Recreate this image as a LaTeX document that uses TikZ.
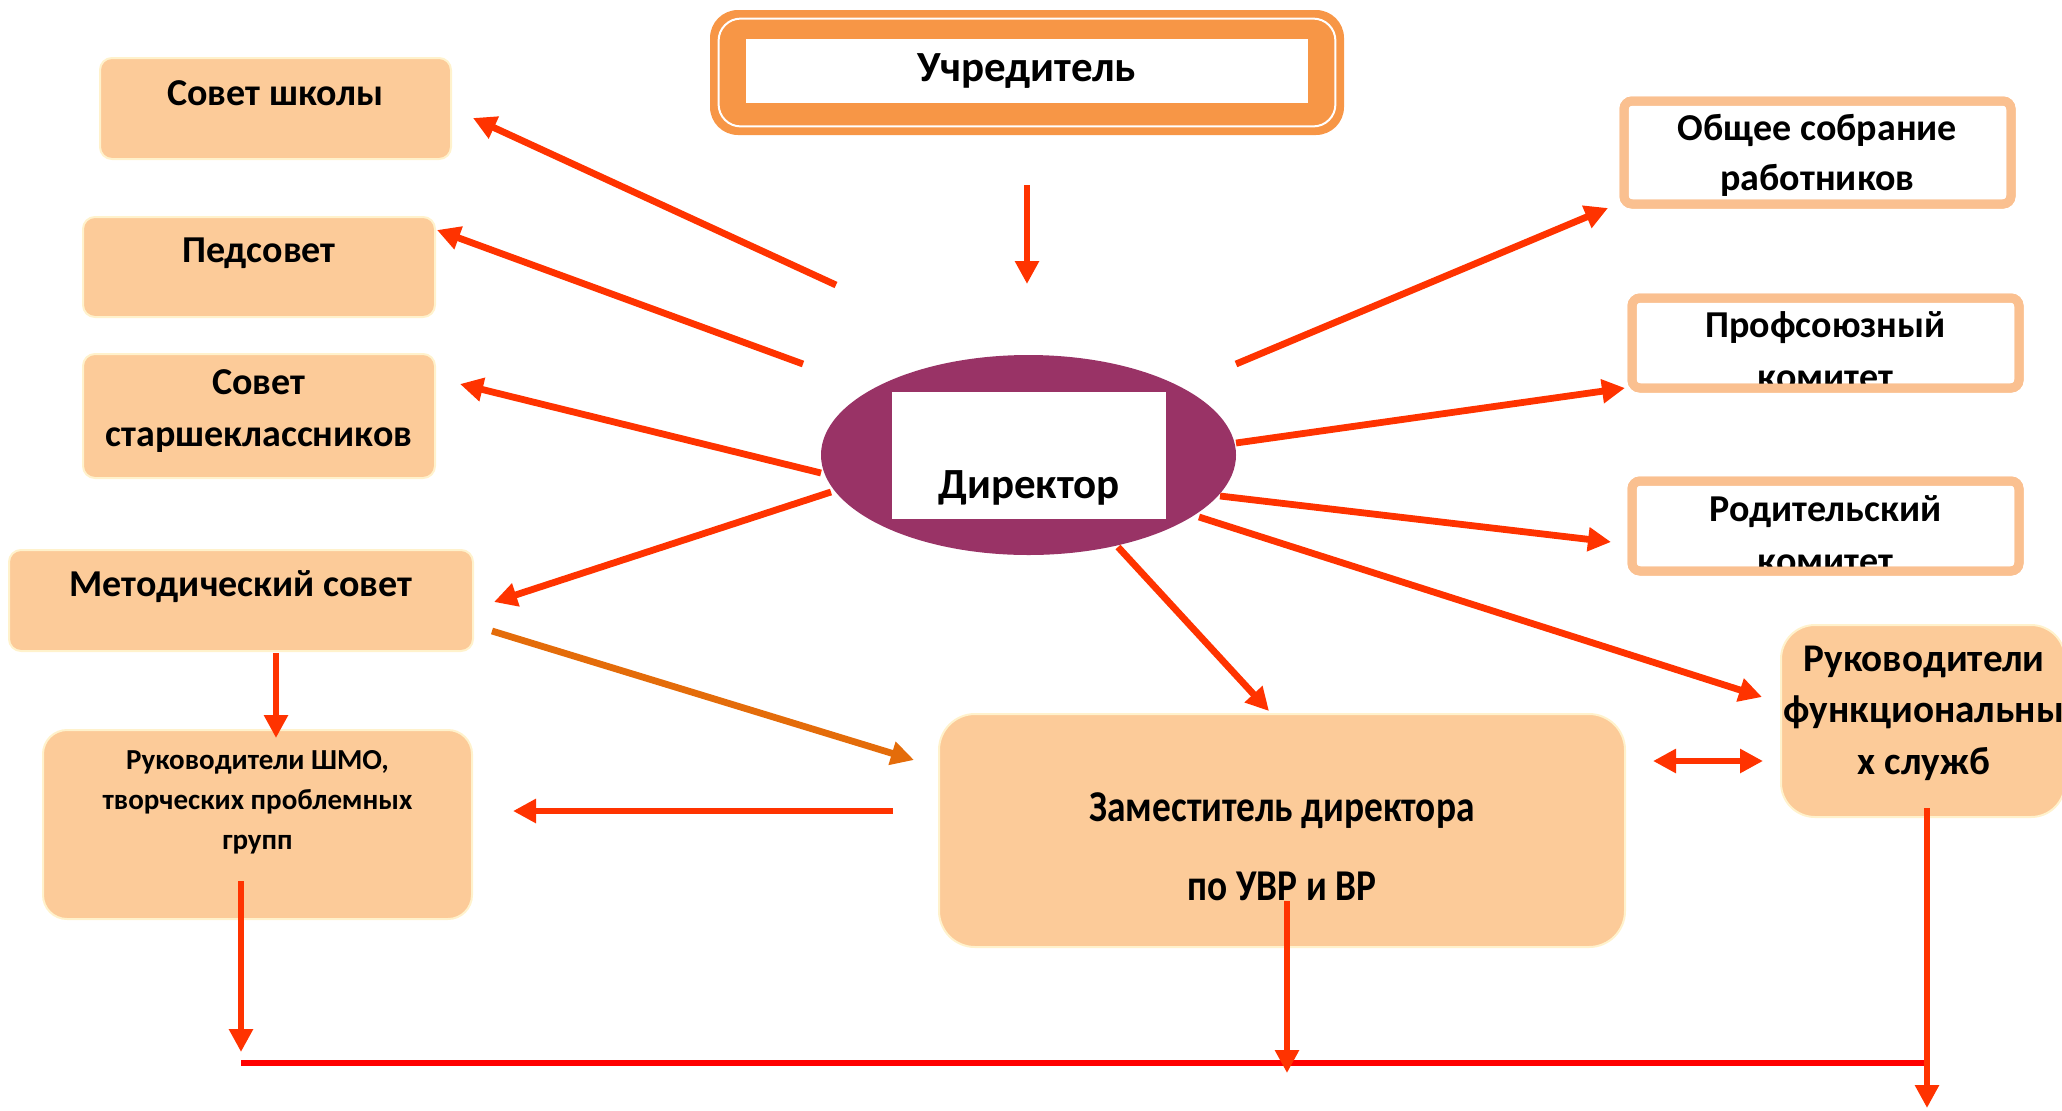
\documentclass[tikz,border=0pt]{standalone}
\usepackage{fontspec}
\setmainfont{Carlito}
\usetikzlibrary{arrows.meta,shapes.geometric}
\definecolor{peach}{RGB}{252,203,153}
\definecolor{peachline}{RGB}{255,242,204}
\definecolor{rborder}{RGB}{250,192,144}
\definecolor{uorange}{RGB}{247,150,70}
\definecolor{plum}{RGB}{153,51,102}
\definecolor{arr}{RGB}{255,51,0}
\definecolor{arrorange}{RGB}{228,108,10}
\definecolor{hline}{RGB}{255,0,0}
\begin{document}
\begin{tikzpicture}[x=0.5pt,y=-0.5pt,
  lbox/.style={fill=peach,draw=peachline,line width=1pt,rounded corners=6pt,inner sep=0pt},
  rbox/.style={fill=white,draw=rborder,line width=4.5pt,rounded corners=4pt,inner sep=0pt,outer sep=0pt},
  rline/.style={draw=rborder,line width=4.5pt,rounded corners=4pt},
  txt/.style={font=\bfseries\fontsize{19}{26}\selectfont,align=center,inner sep=0pt},
  stxt/.style={font=\bfseries\fontsize{14.5}{20}\selectfont,align=center,inner sep=0pt},
  arrow/.style={draw=arr,line width=3.4pt,-{Triangle[length=11.5pt,width=11.5pt]}},
  darrow/.style={draw=arr,line width=3.4pt,{Triangle[length=11.5pt,width=11.5pt]}-{Triangle[length=11.5pt,width=11.5pt]}},
  oarrow/.style={draw=arrorange,line width=3.4pt,-{Triangle[length=11.5pt,width=11.5pt]}},
]
\useasboundingbox (0,0) rectangle (2062,1110);

% Founder
\node[fill=uorange,rounded corners=14pt,minimum width=317pt,minimum height=62.5pt,inner sep=0pt] (uch) at (1027,72.5) {};
\draw[white,line width=1pt,rounded corners=11pt] ([shift={(4.5pt,-4.5pt)}]uch.north west) rectangle ([shift={(-4.5pt,4.5pt)}]uch.south east);
\node[fill=white,minimum width=281pt,minimum height=32pt,inner sep=0pt,font=\bfseries\fontsize{21.5}{26}\selectfont] (uchT) at (1027,71) {Учредитель};

% Director
\node[ellipse,fill=plum,minimum width=207.5pt,minimum height=100pt,inner sep=0pt] (dir) at (1028.5,455) {};
\node[fill=white,minimum width=137pt,minimum height=63.5pt,inner sep=0pt] (dirB) at (1029,455.5) {};
\node[font=\bfseries\fontsize{21.5}{26}\selectfont,inner sep=0pt] (dirT) at (1029,488) {Директор};

% Left boxes
\node[lbox,minimum width=175.5pt,minimum height=50.5pt] (shk) at (275.5,108.5) {};
\node[txt] (shkT) at (275.5,93) {Совет школы};
\node[lbox,minimum width=176pt,minimum height=50pt] (ped) at (259,267) {};
\node[txt] (pedT) at (259,253) {Педсовет};
\node[lbox,minimum width=176pt,minimum height=62pt] (star) at (259,416) {};
\node[txt] (starT) at (259,411.5) {Совет\\старшеклассников};
\node[lbox,minimum width=232pt,minimum height=50.5pt] (met) at (241,600.5) {};
\node[txt] (metT) at (241,587) {Методический совет};
\node[lbox,rounded corners=12pt,minimum width=214.5pt,minimum height=94.5pt] (shmo) at (257.5,824.5) {};
\node[stxt] (shmoT) at (257.5,802) {Руководители ШМО,\\творческих проблемных\\групп};

% Deputy
\node[lbox,rounded corners=18pt,minimum width=343pt,minimum height=116.5pt] (zam) at (1282,830.5) {};
\node[font=\bfseries\fontsize{22}{39.5}\selectfont,align=center,inner sep=0pt] (zamT) at (1282,846.5) {\scalebox{0.85}[1]{Заместитель директора}\\\scalebox{0.85}[1]{по УВР и ВР}};

% Functional services
\node[lbox,rounded corners=17pt,minimum width=142pt,minimum height=96pt] (func) at (1923,721) {};
\node[font=\bfseries\fontsize{19.6}{25.75}\selectfont,align=center,inner sep=0pt] (funcT) at (1924,713) {Руководители\\функциональны\\х служб};

% Right boxes
\node[rbox,minimum width=193.5pt,minimum height=51.5pt] (obs) at (1817.5,152.5) {};
\node[txt,font=\bfseries\fontsize{19}{25}\selectfont] (obsT) at (1817.5,155) {Общее собрание\\работников};
\draw[rline] (obs.south west) rectangle (obs.north east);
\node[rbox,minimum width=193.5pt,minimum height=45pt] (prof) at (1825.5,343) {};
\node[txt,font=\bfseries\fontsize{19}{26}\selectfont] (profT) at (1825.5,351) {Профсоюзный\\комитет};
\draw[rline] (prof.south west) rectangle (prof.north east);
\node[rbox,minimum width=193.5pt,minimum height=45pt] (rod) at (1825.5,526) {};
\node[txt,font=\bfseries\fontsize{19}{26}\selectfont] (rodT) at (1825.5,535) {Родительский\\комитет};
\draw[rline] (rod.south west) rectangle (rod.north east);

% Connector ends
\coordinate (a1s) at (836,285);  \coordinate (a1e) at (473,118);
\coordinate (a2s) at (803,364);  \coordinate (a2e) at (437,230);
\coordinate (a3s) at (821,473);  \coordinate (a3e) at (460,384);
\coordinate (a4s) at (831,492);  \coordinate (a4e) at (494,602);
\coordinate (a5s) at (492,631);  \coordinate (a5e) at (914,760);
\coordinate (a6s) at (893,811);  \coordinate (a6e) at (513,811);
\coordinate (a7s) at (1236,364); \coordinate (a7e) at (1608,208);
\coordinate (a8s) at (1236,443); \coordinate (a8e) at (1625,388);
\coordinate (a9s) at (1220,496); \coordinate (a9e) at (1611,542);
\coordinate (a10s) at (1118,547); \coordinate (a10e) at (1269,711);
\coordinate (a11s) at (1027,185); \coordinate (a11e) at (1027,284);
\coordinate (a12s) at (276,653); \coordinate (a12e) at (276,738);
\coordinate (a13s) at (241,881); \coordinate (a13e) at (241,1052);
\coordinate (a14s) at (1287,901); \coordinate (a14e) at (1287,1073);
\coordinate (a15s) at (1927,808); \coordinate (a15e) at (1927,1108);
\coordinate (a16s) at (1199,517); \coordinate (a16e) at (1762,697);
\coordinate (dbl1) at (1653,761); \coordinate (dbl2) at (1763,761);
\coordinate (hL) at (241,1063); \coordinate (hR) at (1927,1063);

\draw[hline,line width=3pt] (hL) -- (hR);

\draw[arrow] (a1s) -- (a1e);
\draw[arrow] (a2s) -- (a2e);
\draw[arrow] (a3s) -- (a3e);
\draw[arrow] (a4s) -- (a4e);
\draw[oarrow] (a5s) -- (a5e);
\draw[arrow] (a6s) -- (a6e);
\draw[arrow] (a7s) -- (a7e);
\draw[arrow] (a8s) -- (a8e);
\draw[arrow] (a9s) -- (a9e);
\draw[arrow] (a10s) -- (a10e);
\draw[arrow] (a11s) -- (a11e);
\draw[arrow] (a12s) -- (a12e);
\draw[arrow] (a13s) -- (a13e);
\draw[arrow] (a14s) -- (a14e);
\draw[arrow] (a15s) -- (a15e);
\draw[arrow] (a16s) -- (a16e);
\draw[darrow] (dbl1) -- (dbl2);
\end{tikzpicture}
\end{document}
